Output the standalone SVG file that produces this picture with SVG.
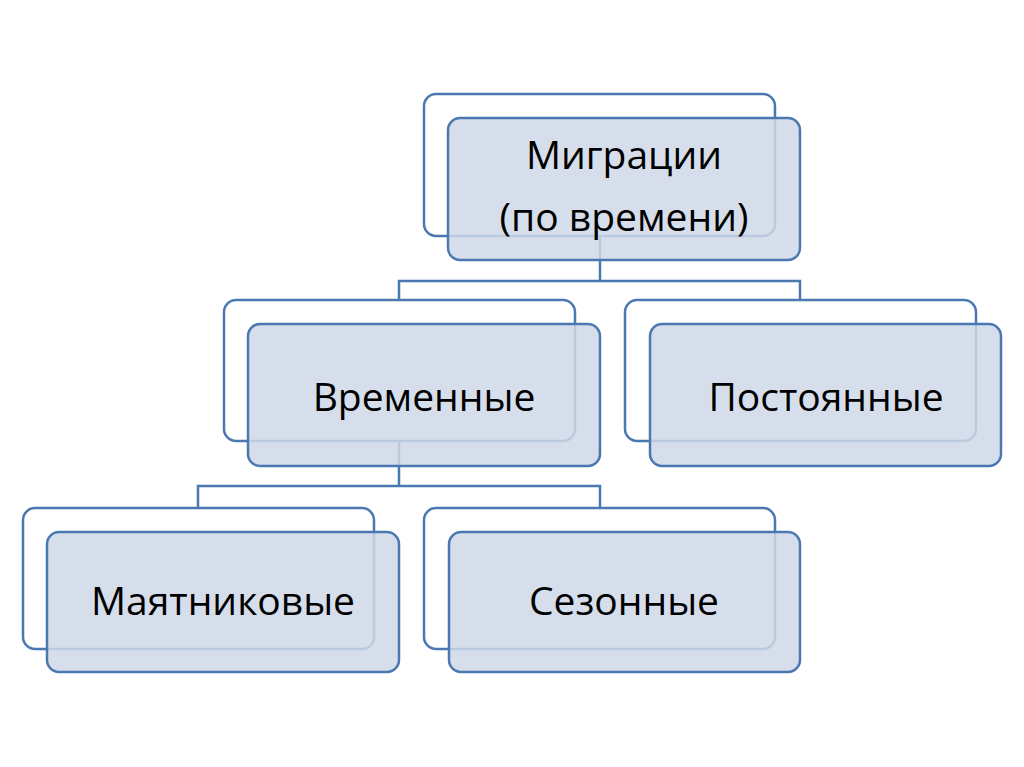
<svg xmlns="http://www.w3.org/2000/svg" width="1024" height="767" viewBox="0 0 1024 767">
<style>
.back{fill:#ffffff;stroke:#4a78b0;stroke-width:2.5}
.front{fill:#cfd8e8;fill-opacity:0.85;stroke:#4a78b0;stroke-width:2.5}
.conn{fill:none;stroke:#4a78b0;stroke-width:2.5}
.t{font-family:"Open Sans","Noto Sans",sans-serif;font-size:39px;fill:#000;text-anchor:middle}
</style>
<rect width="1024" height="767" fill="#ffffff"/>
<g id="connectors">
<path class="conn" d="M600 236 V281 M399 300 V281 H800 V300"/>
<path class="conn" d="M399 440 V486 M198 508 V486 H600 V508"/>
</g>
<g id="n-migr">
<rect class="back" x="424" y="94" width="351" height="142" rx="12"/>
<rect class="front" x="448" y="118" width="352" height="142" rx="12"/>
<text class="t" x="624" y="169">Миграции</text>
<text class="t" x="624" y="231">(по времени)</text>
</g>
<g id="n-temp">
<rect class="back" x="224" y="300" width="351" height="141" rx="12"/>
<rect class="front" x="248" y="324" width="352" height="142" rx="12"/>
<text class="t" x="424" y="411">Временные</text>
</g>
<g id="n-perm">
<rect class="back" x="625" y="300" width="351" height="141" rx="12"/>
<rect class="front" x="650" y="324" width="351" height="142" rx="12"/>
<text class="t" x="826" y="411">Постоянные</text>
</g>
<g id="n-pend">
<rect class="back" x="23" y="508" width="351" height="141" rx="12"/>
<rect class="front" x="47" y="532" width="352" height="140" rx="12"/>
<text class="t" x="223" y="615">Маятниковые</text>
</g>
<g id="n-seas">
<rect class="back" x="424" y="508" width="351" height="141" rx="12"/>
<rect class="front" x="449" y="532" width="351" height="140" rx="12"/>
<text class="t" x="624" y="615">Сезонные</text>
</g>
</svg>
